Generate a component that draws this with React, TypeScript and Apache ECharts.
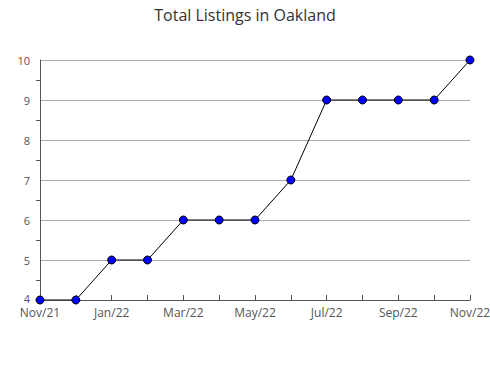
import React, { useEffect, useRef } from "react";
import * as echarts from "echarts";

const months = ["Nov/21", "Dec/21", "Jan/22", "Feb/22", "Mar/22", "Apr/22", "May/22", "Jun/22", "Jul/22", "Aug/22", "Sep/22", "Oct/22", "Nov/22"];
const listings = [4, 4, 5, 5, 6, 6, 6, 7, 9, 9, 9, 9, 10];
const titleText = "Total Listings in Oakland";

export default function App() {
  const ref = useRef<HTMLDivElement>(null);
  useEffect(() => {
    if (!ref.current) return;
    const chart = echarts.init(ref.current, undefined, { renderer: "svg" });
    chart.setOption({
      animation: false,
      textStyle: { fontFamily: "Open Sans" },
      title: {
        text: titleText,
        left: "center",
        top: 2,
        textStyle: { fontFamily: "Open Sans", fontSize: 16, fontWeight: "normal", color: "#333" },
      },
      grid: { left: 40, right: 20, top: 60, bottom: 80, outerBoundsMode: "none", containLabel: false },
      xAxis: {
        type: "category",
        data: months,
        boundaryGap: false,
        axisLine: { lineStyle: { color: "#555", width: 1 } },
        axisTick: { inside: true, length: 5, interval: 0, lineStyle: { color: "#555" } },
        axisLabel: { interval: 1, color: "#555", fontSize: 12, margin: 6, lineHeight: 12 },
        splitLine: { show: false },
      },
      yAxis: {
        type: "value",
        min: 4,
        max: 10,
        interval: 1,
        axisLine: { show: true, lineStyle: { color: "#555", width: 1 } },
        axisTick: { show: false },
        minorTick: { show: true, splitNumber: 2, length: 4, lineStyle: { color: "#555" } },
        axisLabel: {
          color: "#555",
          fontSize: 11,
          margin: 10,
          lineHeight: 9,
          formatter: (v: number) => (v === 4 ? "{low|4}" : String(v)),
          rich: { low: { fontSize: 11, lineHeight: 9, color: "#555", padding: [0, 0, 3, 0] } },
        },
        splitLine: { show: true, lineStyle: { color: "#aaa", width: 1 } },
      },
      series: [
        {
          type: "line",
          data: listings,
          symbol: "circle",
          symbolSize: 8,
          lineStyle: { color: "#000", width: 1 },
          itemStyle: { color: "#0000ff", borderColor: "#000", borderWidth: 1 },
        },
      ],
    });
    return () => chart.dispose();
  }, []);
  return <div ref={ref} style={{ width: 490, height: 380, position: "absolute", left: 0, top: 0 }} />;
}
